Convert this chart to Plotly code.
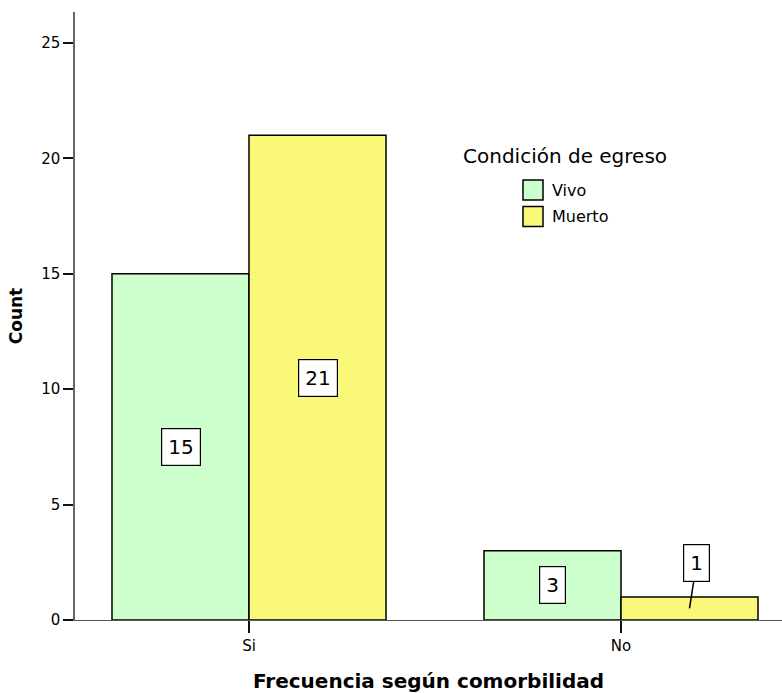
import plotly.graph_objects as go

# Data
categories = ["Si", "No"]
series_names = ["Vivo", "Muerto"]
vivo_counts = [15, 3]
muerto_counts = [21, 1]
series_values = [vivo_counts, muerto_counts]
series_colors = ["#CCFFCC", "#FAF878"]
y_ticks = [0, 5, 10, 15, 20, 25]

FONT = "DejaVu Sans"
W, H = 782, 693
M_L, M_R, M_T, M_B = 75, 0, 12, 73
PW, PH = W - M_L - M_R, H - M_T - M_B

BARGAP = 0.2634
bar_w = (1 - BARGAP) / 2
x_pos = list(range(len(categories)))

fig = go.Figure()
for name, vals, col in zip(series_names, series_values, series_colors):
    fig.add_trace(go.Bar(
        x=x_pos, y=vals, name=name,
        marker=dict(color=col, line=dict(color="black", width=1.5)),
        showlegend=False,
    ))

# Value boxes at the middle of each bar
annotations = []
for s, vals in enumerate(series_values):
    offset = (s - 0.5) * bar_w
    for i, v in enumerate(vals):
        ann = dict(
            x=x_pos[i] + offset, y=v / 2, xref="x", yref="y",
            text=str(v), font=dict(family=FONT, size=20, color="black"),
            bgcolor="white", bordercolor="black", borderwidth=1.2, borderpad=6,
            showarrow=False,
        )
        if v < 2:
            ann.update(showarrow=True, arrowhead=0, arrowwidth=1.5,
                       arrowcolor="black", ax=7, ay=-45, standoff=0)
        annotations.append(ann)


def px_x(p):
    return (p - M_L) / PW


def px_y(p):
    return (H - M_B - p) / PH


# Legend block
annotations.append(dict(
    x=px_x(461), y=px_y(156), xref="paper", yref="paper",
    xanchor="left", yanchor="middle", showarrow=False,
    text="Condición de egreso", font=dict(family=FONT, size=20, color="black"),
))
shapes = []
swatch_tops = [180, 206.5]
for name, col, top in zip(series_names, series_colors, swatch_tops):
    shapes.append(dict(
        type="rect", xref="paper", yref="paper",
        x0=px_x(523), x1=px_x(543), y0=px_y(top + 20), y1=px_y(top),
        fillcolor=col, line=dict(color="black", width=1.5),
    ))
    annotations.append(dict(
        x=px_x(550), y=px_y(top + 10), xref="paper", yref="paper",
        xanchor="left", yanchor="middle", showarrow=False,
        text=name, font=dict(family=FONT, size=16, color="black"),
    ))

x_left = -(249 - M_L) / 372
x_right = 1 + (W - 621) / 372

fig.update_layout(
    width=W, height=H,
    margin=dict(l=M_L, r=M_R, t=M_T, b=M_B, pad=0),
    paper_bgcolor="white", plot_bgcolor="white",
    barmode="group", bargap=BARGAP, bargroupgap=0,
    annotations=annotations, shapes=shapes,
    showlegend=False,
    xaxis=dict(
        range=[x_left, x_right], tickvals=x_pos, ticktext=categories,
        showline=True, linecolor="#555555", linewidth=1,
        ticks="outside", ticklen=12, tickwidth=2, tickcolor="#111111",
        showgrid=False, zeroline=False,
        tickfont=dict(family=FONT, size=15, color="black"),
        title=dict(text="<b>Frecuencia según comorbilidad</b>",
                   font=dict(family=FONT, size=20, color="black"), standoff=24),
    ),
    yaxis=dict(
        range=[0, 26.34], tickvals=y_ticks,
        showline=True, linecolor="#666666", linewidth=1.5,
        ticks="outside", ticklen=10, tickwidth=2, tickcolor="#111111",
        showgrid=False, zeroline=False,
        tickfont=dict(family=FONT, size=15, color="black"),
        title=dict(text="<b>Count</b>",
                   font=dict(family=FONT, size=17, color="black"), standoff=14),
    ),
)

fig.write_html("out.html")
